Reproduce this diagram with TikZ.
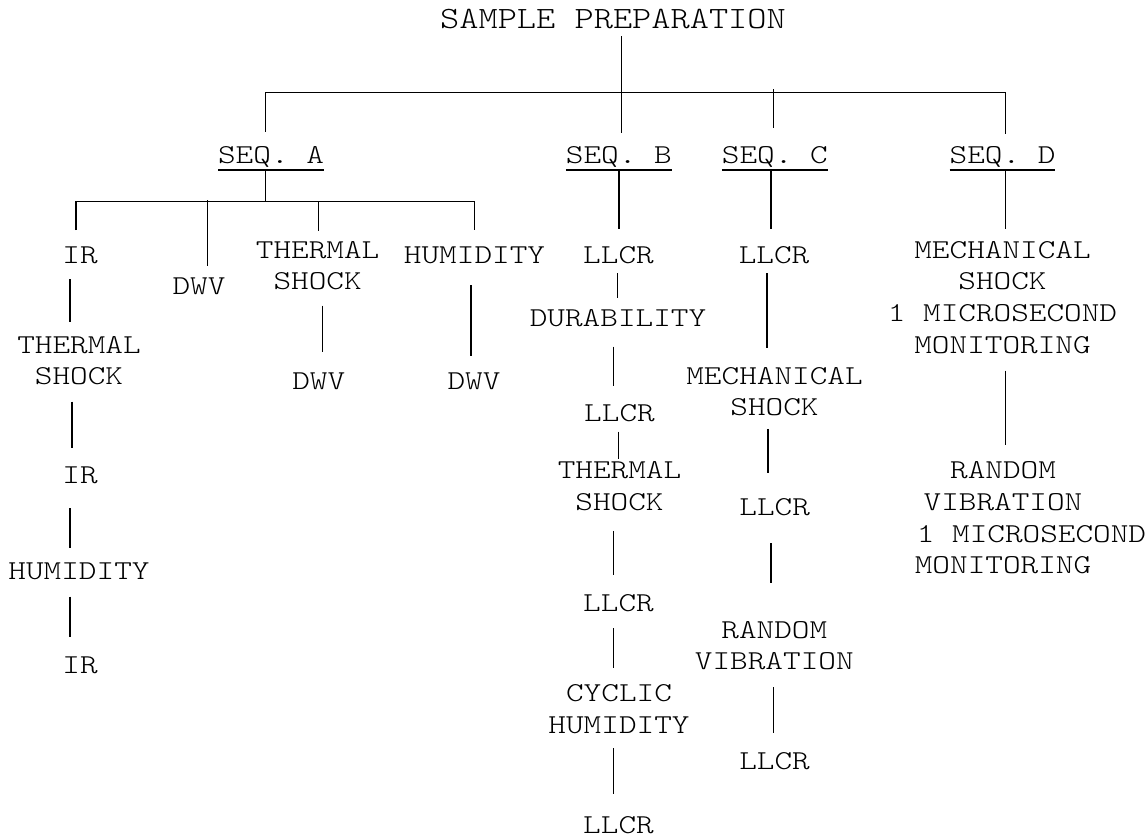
\documentclass[tikz,border=0pt]{standalone}
\usepackage{fontspec}
\newfontfamily\monofam[FakeStretch=1.23]{lmmonolt10-regular.otf}
\newfontfamily\titlefam[FakeStretch=1.18]{lmmonolt10-regular.otf}
\usetikzlibrary{calc}
\newcommand\bodyf{\monofam\fontsize{27.3}{31.7}\selectfont}
\newcommand\titlef{\titlefam\fontsize{31}{35}\selectfont}
\begin{document}
\begin{tikzpicture}[x=1pt,y=1pt,
  lbl/.style={inner sep=0pt,outer sep=0pt,anchor=north,align=center,font=\bodyf,
    execute at begin node=\strut,execute at end node=\strut},
  ttl/.style={lbl,font=\titlef},
  conn/.style={line width=1.5pt,line cap=butt}]
\useasboundingbox (0,0) rectangle (1146,-838);

% ---- nodes ----
\node[ttl] (title) at (613,-3.8) {SAMPLE PREPARATION};
\node[lbl] (seqA) at (271,-141.1) {SEQ. A};
\node[lbl] (seqB) at (618.8,-141.1) {SEQ. B};
\node[lbl] (seqC) at (774.8,-141.1) {SEQ. C};
\node[lbl] (seqD) at (1002.5,-141.1) {SEQ. D};

% sequence A
\node[lbl] (irA1) at (80,-241.1) {IR};
\node[lbl] (dwvA1) at (199,-272.4) {DWV};
\node[lbl] (tsA) at (317.6,-241.1) {THERMAL\\SHOCK};
\node[lbl] (huA) at (474.5,-241.1) {HUMIDITY};
\node[lbl] (tsA1) at (79,-336.1) {THERMAL\\SHOCK};
\node[lbl] (irA2) at (80,-461.8) {IR};
\node[lbl] (huA2) at (79,-557.1) {HUMIDITY};
\node[lbl] (irA3) at (80,-651.8) {IR};
\node[lbl] (dwvA2) at (318.7,-367.8) {DWV};
\node[lbl] (dwvA3) at (474,-367.8) {DWV};

% sequence B
\node[lbl] (llB1) at (618.5,-241.1) {LLCR};
\node[lbl] (durB) at (618,-304.5) {DURABILITY};
\node[lbl] (llB2) at (619.5,-399.5) {LLCR};
\node[lbl] (tsB) at (619.5,-461.8) {THERMAL\\SHOCK};
\node[lbl] (llB3) at (618.5,-589.5) {LLCR};
\node[lbl] (chB) at (619,-684.5) {CYCLIC\\HUMIDITY};
\node[lbl] (llB4) at (618.5,-811.1) {LLCR};

% sequence C
\node[lbl] (llC1) at (774,-241.1) {LLCR};
\node[lbl] (msC) at (774.5,-367.1) {MECHANICAL\\SHOCK};
\node[lbl] (llC2) at (774.7,-493.8) {LLCR};
\node[lbl] (rvC) at (774.3,-621.1) {RANDOM\\VIBRATION};
\node[lbl] (llC3) at (774.5,-747.1) {LLCR};

% sequence D
\node[lbl] (msD) at (1002.5,-241.1) {MECHANICAL\\SHOCK\\1 MICROSECOND\\MONITORING};
\node[lbl] (rvD) at (1003,-461.8) {RANDOM\\VIBRATION\\\hspace*{57pt}1 MICROSECOND\\MONITORING};

% ---- top tree ----
\coordinate (bus) at (0,-92.7);
\coordinate (subbus) at (0,-201.7);
\draw[conn] ($(title.south)+(8.5,2.8)$) -- ($(title.south |- seqB.north)+(8.5,8.4)$);
\draw[conn] ($(seqA.north)+(-5.7,9.4)$) |- ($(seqD.north |- bus)+(3,0)$) -- ($(seqD.north)+(3,7.1)$);
\draw[conn] ($(seqC.north |- bus)+(-1.4,3.4)$) -- ($(seqC.north)+(-1.4,13.4)$);

% underlines
\foreach \s in {seqA,seqB,seqC,seqD}
  \draw[conn] ($(\s.south west)+(0,2.8)$) -- ($(\s.south east)+(0,2.8)$);

% sequence A branching
\draw[conn] ($(seqA.south)+(-5.5,2.8)$) -- ($(seqA.south |- subbus)+(-5.5,0)$);
\draw[conn] ($(irA1.north)+(-4,11.1)$) |- (huA.north |- subbus) -- ($(huA.north)+(0,11.1)$);
\draw[conn] ($(tsA.north |- subbus)+(0.7,0)$) -- ($(tsA.north)+(0.7,10.4)$);
\draw[conn] ($(dwvA1.north |- subbus)+(8.5,1.7)$) -- ($(dwvA1.north)+(8.5,6.7)$);

% stems B, C, D
\draw[conn] ($(seqB.south)+(0.2,2.8)$) -- ($(seqB.south |- llB1.north)+(0.2,11.8)$);
\draw[conn] ($(seqC.south)+(-4,2.8)$) -- ($(seqC.south |- llC1.north)+(-4,11.8)$);
\draw[conn] ($(seqD.south)+(3,2.8)$) -- ($(seqD.south |- msD.north)+(3,11.8)$);

% sequence A chains
\draw[conn] ($(irA1.south)+(-10,-6.2)$) -- ($(irA1.south |- tsA1.north)+(-10,14.4)$);
\draw[conn] ($(tsA1.south)+(-7,-7.2)$) -- ($(tsA1.south |- irA2.north)+(-7,14.1)$);
\draw[conn] ($(irA2.south)+(-10,-14.5)$) -- ($(irA2.south |- huA2.north)+(-10,8.8)$);
\draw[conn] ($(huA2.south)+(-9,-7.9)$) -- ($(huA2.south |- irA3.north)+(-9,15.1)$);
\draw[conn] ($(tsA.south)+(5,-6.2)$) -- ($(tsA.south |- dwvA2.north)+(5,16.1)$);
\draw[conn] ($(huA.south)+(-3.7,-12.2)$) -- ($(huA.south |- dwvA3.north)+(-3.7,12.1)$);

% sequence B chain
\draw[conn] ($(llB1.south)+(-1,-0.2)$) -- ($(llB1.south |- durB.north)+(-1,6.2)$);
\draw[conn] ($(durB.south)+(-4.5,-10.5)$) -- ($(durB.south |- llB2.north)+(-4.5,13.5)$);
\draw[conn] ($(llB2.south)+(-0.9,-0.5)$) -- ($(llB2.south |- tsB.north)+(-0.9,2.5)$);
\draw[conn] ($(tsB.south)+(-6,-10.8)$) -- ($(tsB.south |- llB3.north)+(-6,14.5)$);
\draw[conn] ($(llB3.south)+(-5,-7.1)$) -- ($(llB3.south |- chB.north)+(-5,16.2)$);
\draw[conn] ($(chB.south)+(-5.5,-5.4)$) -- ($(chB.south |- llB4.north)+(-5.5,16.8)$);

% sequence C chain
\draw[conn] ($(llC1.south)+(-6.8,-0.2)$) -- ($(llC1.south |- msC.north)+(-6.8,18.8)$);
\draw[conn] ($(msC.south)+(-6.5,-3.5)$) -- ($(msC.south |- llC2.north)+(-6.5,20.5)$);
\draw[conn] ($(llC2.south)+(-3.7,-17.8)$) -- ($(llC2.south |- rvC.north)+(-3.7,37.8)$);
\draw[conn] ($(rvC.south)+(-0.9,-7.8)$) -- ($(rvC.south |- llC3.north)+(-0.9,14.4)$);

% sequence D chain
\draw[conn] ($(msD.south)+(3,-7.8)$) -- ($(msD.south |- rvD.north)+(3,16.8)$);
\end{tikzpicture}
\end{document}
